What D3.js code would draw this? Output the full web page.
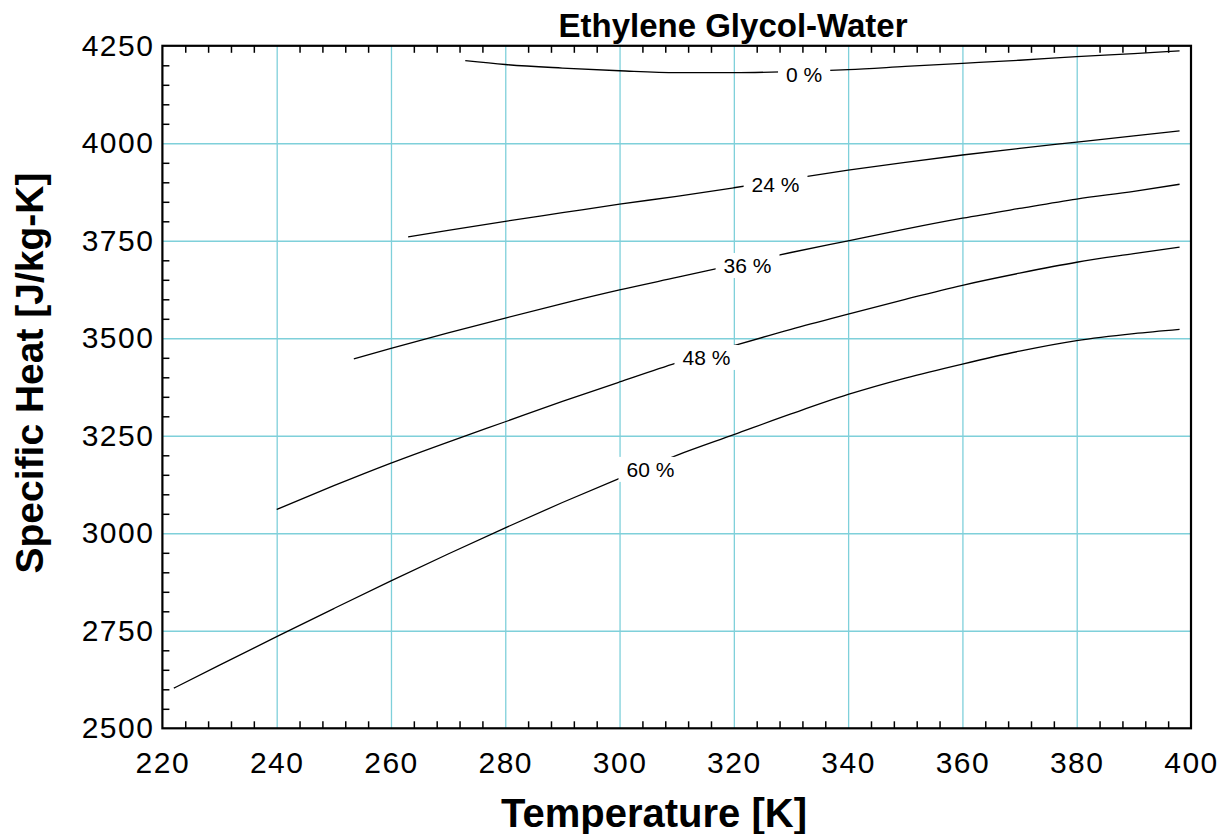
<!DOCTYPE html>
<html>
<head>
<meta charset="utf-8">
<script src="https://cdn.jsdelivr.net/npm/d3@7"></script>
<style>
  html, body { margin: 0; padding: 0; background: #fff; }
  svg { display: block; font-family: "Liberation Sans", Arial, sans-serif; }
</style>
</head>
<body>
<svg id="chart" width="1232" height="834"></svg>
<script>
// ---- Data ----
const xTicks = [220, 240, 260, 280, 300, 320, 340, 360, 380, 400];
const yTicks = [2500, 2750, 3000, 3250, 3500, 3750, 4000, 4250];

const temp0  = [273, 280, 290, 300, 310, 320, 330, 340, 350, 360, 370, 380, 390, 398];
const cp0    = [4212, 4202, 4193, 4186, 4181, 4181, 4184, 4189, 4197, 4205, 4213, 4222, 4230, 4237];

const temp24 = [263, 270, 280, 290, 300, 310, 320, 330, 340, 350, 360, 370, 380, 390, 398];
const cp24   = [3760, 3777, 3800, 3822, 3844, 3864, 3886, 3909, 3931, 3951, 3970, 3987, 4003, 4019, 4032];

const temp36 = [253.5, 260, 270, 280, 290, 300, 310, 320, 330, 340, 350, 360, 370, 380, 390, 398];
const cp36   = [3447, 3474, 3514, 3552, 3589, 3624, 3656, 3688, 3720, 3750, 3780, 3808, 3833, 3857, 3877, 3895];

const temp48 = [240, 250, 260, 270, 280, 290, 300, 310, 320, 330, 340, 350, 360, 370, 380, 390, 398];
const cp48   = [3061, 3122, 3180, 3234, 3286, 3338, 3388, 3437, 3481, 3523, 3562, 3600, 3636, 3667, 3695, 3717, 3734];

const temp60 = [222, 230, 240, 250, 260, 270, 280, 290, 300, 310, 320, 330, 340, 350, 360, 370, 380, 390, 398];
const cp60   = [2603, 2662, 2735, 2807, 2878, 2947, 3014, 3079, 3141, 3200, 3253, 3306, 3356, 3398, 3434, 3467, 3494, 3512, 3523];

const seriesNames  = ["0 %", "24 %", "36 %", "48 %", "60 %"];
const seriesTemps  = [temp0, temp24, temp36, temp48, temp60];
const seriesCp     = [cp0, cp24, cp36, cp48, cp60];
const labelTemps   = [332.3, 327.3, 322.4, 315.2, 305.4];

const titleText  = "Ethylene Glycol-Water";
const xAxisTitle = "Temperature [K]";
const yAxisTitle = "Specific Heat [J/kg-K]";

// ---- Layout ----
const svg = d3.select("#chart");
const L = 162.4, R = 1191, T = 45.8, B = 728.3;
const W = R - L, H = B - T;

const x = d3.scaleLinear().domain([220, 400]).range([L, R]);
const y = d3.scaleLinear().domain([2500, 4250]).range([B, T]);

const gridColor = "#7fd0da";
const xMinor = d3.range(220, 400.1, 4).filter(v => (v - 220) % 20 !== 0);
const yMinor = d3.range(2500, 4250.1, 50).filter(v => (v - 2500) % 250 !== 0);

// gridlines
const gx = svg.append("g").attr("transform", `translate(0,${B})`)
  .call(d3.axisBottom(x).tickValues(xTicks.slice(1, -1)).tickSize(-H).tickFormat(""));
gx.select(".domain").remove();
gx.selectAll("line").attr("stroke", gridColor).attr("stroke-width", 1.3);

const gy = svg.append("g").attr("transform", `translate(${L},0)`)
  .call(d3.axisLeft(y).tickValues(yTicks.slice(1, -1)).tickSize(-W).tickFormat(""));
gy.select(".domain").remove();
gy.selectAll("line").attr("stroke", gridColor).attr("stroke-width", 1.5);

// curves
const line = d3.line().x(d => x(d[0])).y(d => y(d[1])).curve(d3.curveMonotoneX);
const curves = svg.append("g");
seriesNames.forEach((name, i) => {
  const pts = seriesTemps[i].map((t, j) => [t, seriesCp[i][j]]);
  curves.append("path").datum(pts)
    .attr("d", line).attr("fill", "none")
    .attr("stroke", "#000").attr("stroke-width", 1.3);
});

// curve labels with white background
const labG = svg.append("g");
seriesNames.forEach((name, i) => {
  const ts = seriesTemps[i], cs = seriesCp[i];
  const t = labelTemps[i];
  const k = d3.bisectLeft(ts, t);
  const f = (t - ts[k - 1]) / (ts[k] - ts[k - 1]);
  const v = cs[k - 1] + f * (cs[k] - cs[k - 1]);
  const g = labG.append("g");
  const txt = g.append("text")
    .attr("x", x(t)).attr("y", y(v) + 11)
    .attr("text-anchor", "middle")
    .attr("font-size", 21)
    .attr("fill", "#000")
    .text(name);
  const bb = txt.node().getBBox();
  g.insert("rect", "text")
    .attr("x", bb.x - 8).attr("y", bb.y - 1)
    .attr("width", bb.width + 16).attr("height", bb.height + 2)
    .attr("fill", "#fff");
});

// minor ticks
const tb = svg.append("g").attr("transform", `translate(0,${B})`)
  .call(d3.axisBottom(x).tickValues(xMinor).tickSize(-7).tickFormat(""));
tb.select(".domain").remove();
tb.selectAll("line").attr("stroke", "#000").attr("stroke-width", 1.5);

const tt = svg.append("g").attr("transform", `translate(0,${T})`)
  .call(d3.axisTop(x).tickValues(xMinor).tickSize(-7).tickFormat(""));
tt.select(".domain").remove();
tt.selectAll("line").attr("stroke", "#000").attr("stroke-width", 1.5);

const tl = svg.append("g").attr("transform", `translate(${L},0)`)
  .call(d3.axisLeft(y).tickValues(yMinor).tickSize(-7).tickFormat(""));
tl.select(".domain").remove();
tl.selectAll("line").attr("stroke", "#000").attr("stroke-width", 1.5);

// frame
svg.append("rect").attr("x", L).attr("y", T).attr("width", W).attr("height", H)
  .attr("fill", "none").attr("stroke", "#000").attr("stroke-width", 2.2);

// tick labels
const xl = svg.append("g").attr("transform", `translate(0,${B})`)
  .call(d3.axisBottom(x).tickValues(xTicks).tickSize(0).tickFormat(d3.format("d")));
xl.select(".domain").remove();
xl.selectAll("text")
  .attr("y", 44.5).attr("dy", null)
  .attr("font-size", 30).attr("letter-spacing", "1.5px")
  .attr("font-family", "Liberation Sans, Arial, sans-serif")
  .attr("fill", "#000");

const yl = svg.append("g").attr("transform", `translate(${L},0)`)
  .call(d3.axisLeft(y).tickValues(yTicks).tickSize(0).tickFormat(d3.format("d")));
yl.select(".domain").remove();
yl.selectAll("text")
  .attr("x", -8).attr("dy", "0.32em")
  .attr("font-size", 30).attr("letter-spacing", "1.5px")
  .attr("font-family", "Liberation Sans, Arial, sans-serif")
  .attr("fill", "#000");

// titles
svg.append("text").attr("x", 733).attr("y", 37)
  .attr("text-anchor", "middle").attr("font-size", 33).attr("font-weight", "bold")
  .text(titleText);

svg.append("text").attr("x", 654).attr("y", 827)
  .attr("text-anchor", "middle").attr("font-size", 40).attr("font-weight", "bold")
  .text(xAxisTitle);

svg.append("text")
  .attr("transform", "translate(43,373) rotate(-90)")
  .attr("text-anchor", "middle").attr("font-size", 39).attr("font-weight", "bold")
  .text(yAxisTitle);
</script>
</body>
</html>
